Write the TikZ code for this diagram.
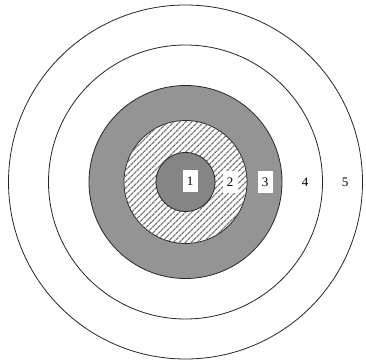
\documentclass[tikz,border=0pt]{standalone}
\usepackage{fontspec}
\setmainfont{Liberation Serif}
\usetikzlibrary{patterns.meta}
\begin{document}
\begin{tikzpicture}[
    x=1pt, y=-1pt,
    ring/.style={draw=black!85, line width=0.8pt},
    zonelabel/.style={font=\fontsize{13}{15}\selectfont, inner sep=0pt, minimum width=15pt, minimum height=22pt},
    boxed/.style={zonelabel, fill=white}
]
  \useasboundingbox (0,0) rectangle (366,363);

  % Zentrum der Scheibe
  \coordinate (c) at (185.5,182);

  % Ringe von aussen nach innen
  \draw[ring, fill=white] (c) circle (177);
  \draw[ring, fill=white] (c) circle (137);
  \draw[ring, fill=black!42] (c) circle (96.5);
  \draw[ring, fill=white] (c) circle (61.5);
  \fill[pattern={Lines[angle=45, distance=4pt, line width=1.3pt]}, pattern color=black!55] (c) circle (61.5);
  \draw[ring, fill=black!48] (c) circle (29.5);

  % Zonen
  \node[boxed]     (z1) at (190,181.5) {1};
  \node[boxed]     (z2) at (230,182)   {2};
  \node[boxed]     (z3) at (265,182)   {3};
  \node[zonelabel] (z4) at (305,182)   {4};
  \node[zonelabel] (z5) at (345,182)   {5};

\end{tikzpicture}
\end{document}
